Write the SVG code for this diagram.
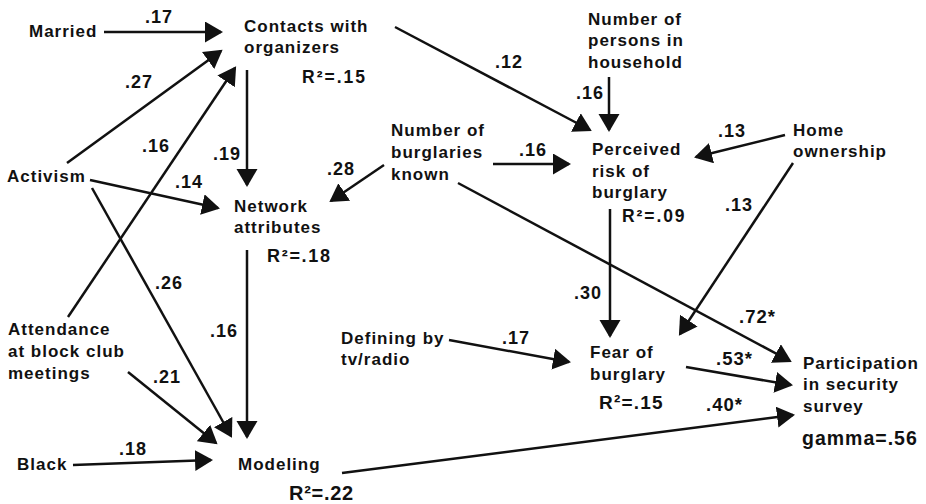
<svg xmlns="http://www.w3.org/2000/svg" width="926" height="504" viewBox="0 0 926 504">
<style>
text{font-family:"Liberation Sans",Arial,sans-serif;font-weight:bold;fill:#111;}
.n{font-size:17px;letter-spacing:1px;}
.c{font-size:18px;letter-spacing:1px;}
.s{font-size:18.5px;letter-spacing:1px;}
#edges line{stroke:#111;stroke-width:2.5;fill:none;marker-end:url(#ah);}
</style>
<defs>
<marker id="ah" markerUnits="userSpaceOnUse" markerWidth="19" markerHeight="22" refX="16" refY="10.5" orient="auto">
<path d="M0,0 L18,10.5 L0,21 z" fill="#111"/>
</marker>
</defs>
<rect width="926" height="504" fill="#fff"/>
<g id="edges">
<line x1="104" y1="32" x2="221" y2="32"/>
<line x1="67" y1="163" x2="221" y2="51"/>
<line x1="68" y1="317" x2="235" y2="68"/>
<line x1="90" y1="180" x2="218" y2="208"/>
<line x1="92" y1="188" x2="231" y2="436"/>
<line x1="128" y1="372" x2="216" y2="443"/>
<line x1="73" y1="465" x2="211" y2="460"/>
<line x1="247" y1="70" x2="247" y2="185"/>
<line x1="247" y1="250" x2="247" y2="437"/>
<line x1="384" y1="165" x2="331" y2="201"/>
<line x1="395" y1="27" x2="590" y2="130"/>
<line x1="609" y1="77" x2="609" y2="130"/>
<line x1="493" y1="164" x2="569" y2="164"/>
<line x1="785" y1="135" x2="696" y2="157"/>
<line x1="610" y1="209" x2="610" y2="336"/>
<line x1="793" y1="163" x2="680" y2="334"/>
<line x1="458" y1="183" x2="790" y2="361"/>
<line x1="449" y1="340" x2="569" y2="362"/>
<line x1="686" y1="367" x2="791" y2="385"/>
<line x1="342" y1="473" x2="793" y2="415"/>
</g>
<g id="labels">
<text class="c" x="145" y="23">.17</text>
<text class="c" x="125" y="88">.27</text>
<text class="c" x="142" y="152">.16</text>
<text class="c" x="175" y="188">.14</text>
<text class="c" x="213" y="160">.19</text>
<text class="c" x="155" y="289">.26</text>
<text class="c" x="210" y="337">.16</text>
<text class="c" x="153" y="383">.21</text>
<text class="c" x="119" y="455">.18</text>
<text class="c" x="327" y="175">.28</text>
<text class="c" x="495" y="68">.12</text>
<text class="c" x="576" y="99">.16</text>
<text class="c" x="519" y="156">.16</text>
<text class="c" x="718" y="137">.13</text>
<text class="c" x="725" y="211">.13</text>
<text class="c" x="574" y="299">.30</text>
<text class="c" x="502" y="344">.17</text>
<text class="s" x="739" y="323">.72*</text>
<text class="s" x="716" y="365">.53*</text>
<text class="s" x="706" y="411">.40*</text>
</g>
<g id="married"><text class="n" x="29" y="37">Married</text></g>
<g id="contacts">
<text class="n" x="244" y="32">Contacts with</text>
<text class="n" x="244" y="53">organizers</text>
<text x="302" y="83" style="font-size:17.5px;letter-spacing:2px">R²=.15</text>
</g>
<g id="activism"><text class="n" x="7" y="182">Activism</text></g>
<g id="network">
<text class="n" x="234" y="212">Network</text>
<text class="n" x="234" y="233">attributes</text>
<text x="267" y="262" style="font-size:18px;letter-spacing:1.7px">R²=.18</text>
</g>
<g id="attendance">
<text class="n" x="8" y="335">Attendance</text>
<text class="n" x="8" y="357">at block club</text>
<text class="n" x="8" y="379">meetings</text>
</g>
<g id="black"><text class="n" x="17" y="470">Black</text></g>
<g id="modeling">
<text class="n" x="238" y="470">Modeling</text>
<text x="289" y="500" style="font-size:20px;letter-spacing:0.7px">R²=.22</text>
</g>
<g id="burglaries">
<text class="n" x="391" y="136">Number of</text>
<text class="n" x="391" y="158">burglaries</text>
<text class="n" x="391" y="180">known</text>
</g>
<g id="household">
<text class="n" x="588" y="25">Number of</text>
<text class="n" x="588" y="46">persons in</text>
<text class="n" x="588" y="68">household</text>
</g>
<g id="perceived">
<text class="n" x="592" y="155">Perceived</text>
<text class="n" x="592" y="177">risk of</text>
<text class="n" x="592" y="198">burglary</text>
<text x="622" y="222" style="font-size:17.5px;letter-spacing:1.9px">R²=.09</text>
</g>
<g id="home">
<text class="n" x="793" y="136">Home</text>
<text class="n" x="793" y="157">ownership</text>
</g>
<g id="defining">
<text class="n" x="341" y="344">Defining by</text>
<text class="n" x="341" y="365">tv/radio</text>
</g>
<g id="fear">
<text class="n" x="590" y="358">Fear of</text>
<text class="n" x="590" y="380">burglary</text>
<text x="599" y="409" style="font-size:19px;letter-spacing:1.2px">R²=.15</text>
</g>
<g id="participation">
<text class="n" x="803" y="369">Participation</text>
<text class="n" x="803" y="390">in security</text>
<text class="n" x="803" y="412">survey</text>
<text x="802" y="445" style="font-size:19.5px;letter-spacing:1px">gamma=.56</text>
</g>
</svg>
